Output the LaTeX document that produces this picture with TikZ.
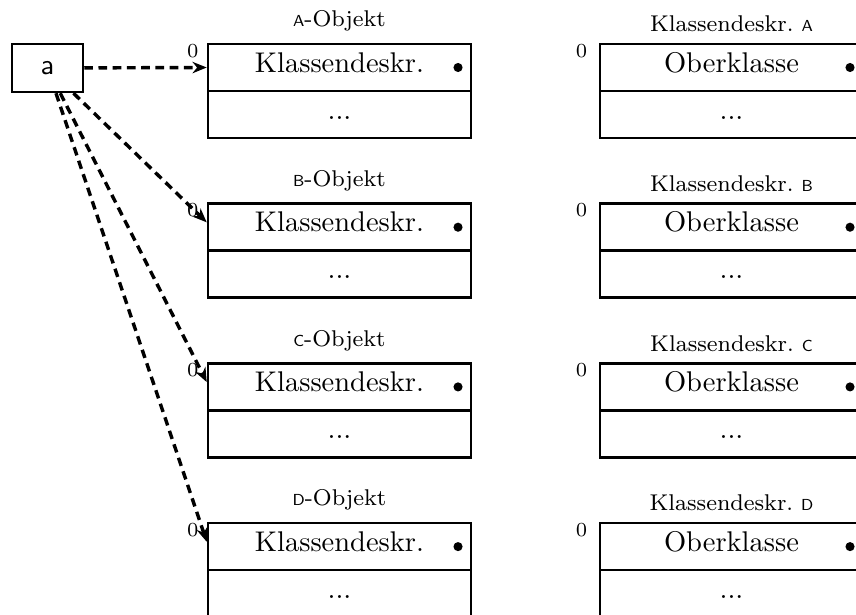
\documentclass[tikz,border=0pt]{standalone}
\usetikzlibrary{arrows.meta}
\begin{document}
\begin{tikzpicture}[x=0.351pt,y=-0.351pt,
  abox/.style={draw, line width=0.9pt, minimum width=24.9pt, minimum height=16.8pt,
    inner sep=0pt, font=\sffamily},
  cell/.style={draw, line width=0.9pt, minimum width=92.3pt, minimum height=16.5pt,
    inner sep=0pt, text height=7pt, text depth=3.8pt},
  titletext/.style={font=\footnotesize, anchor=base, inner sep=0pt},
  zero/.style={font=\scriptsize, inner sep=0pt},
  ptr/.style={line width=1.2pt, dash pattern=on 3pt off 2pt,
    -{Stealth[length=5pt,width=4pt]}},
  dotmark/.style={circle, fill, inner sep=0pt, minimum size=3.2pt}
]
\useasboundingbox (0,0) rectangle (856,614);
\clip (0,0) rectangle (856,614);

% the variable a
\node[abox] (a) at (47.5,68) {a};

% objects (left column) and their class descriptors (right column)
\foreach \n [count=\i from 0] in {A,B,C,D} {
  \pgfmathsetmacro\toprow{44+159.7*\i}
  % object
  \node[cell] (o\n-top) at (339.5,{\toprow+23.5}) {Klassendeskr.};
  \node[cell] (o\n-bot) at (339.5,{\toprow+70.5}) {...};
  \node[dotmark] (o\n-ptr) at ([xshift=-5pt]o\n-top.east) {};
  \node[titletext] (o\n-cap) at ([yshift=5.6pt]o\n-top.north)
    {{\sffamily\fontsize{5.6}{6}\selectfont\n}-Objekt};
  \node[zero] (o\n-off) at ([xshift=-4.9pt,yshift=-2.8pt]o\n-top.north west) {0};
  % class descriptor
  \node[cell] (k\n-top) at (731.5,{\toprow+23.5}) {Oberklasse};
  \node[cell] (k\n-bot) at (731.5,{\toprow+70.5}) {...};
  \node[dotmark] (k\n-ptr) at ([xshift=-5pt]k\n-top.east) {};
  \node[titletext] (k\n-cap) at ([yshift=3.9pt]k\n-top.north)
    {Klassendeskr.\ {\sffamily\fontsize{5.6}{6}\selectfont\n}};
  \node[zero] (k\n-off) at ([xshift=-6pt,yshift=-2.8pt]k\n-top.north west) {0};
}

% references from a to the objects
\coordinate (tB) at ([yshift=-7pt]oB-top.north west);
\coordinate (tC) at ([yshift=-7pt]oC-top.north west);
\coordinate (tD) at ([yshift=-7pt]oD-top.north west);
\draw[ptr] (a) -- (oA-top.west);
\draw[ptr] (a) -- (tB);
\draw[ptr] (a) -- (tC);
\draw[ptr] (a) -- (tD);
\end{tikzpicture}
\end{document}
